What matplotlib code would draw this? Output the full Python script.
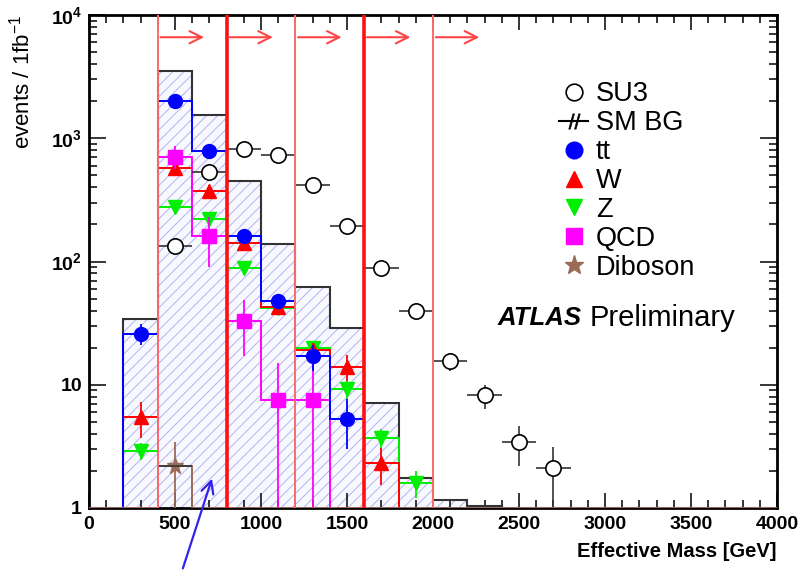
import numpy as np
import matplotlib.pyplot as plt
from matplotlib.lines import Line2D
from matplotlib.ticker import FixedLocator, MultipleLocator, NullFormatter

plt.rcParams['font.family'] = ['Liberation Sans', 'DejaVu Sans']
plt.rcParams['hatch.linewidth'] = 0.7
plt.rcParams['mathtext.default'] = 'regular'

# 200 GeV bins from 0 to 4000 GeV
edges = np.arange(0, 4001, 200)
centers = edges[:-1] + 100

# events / 1fb^-1 in each bin (0 = empty bin)
sm_bg   = [0, 34, 3500, 1550, 450, 139, 62, 29, 7.1, 1.75, 1.17, 1.04, 0, 0, 0, 0, 0, 0, 0, 0]
ttbar   = [0, 26, 1990, 790, 160, 48, 17, 5.3, 0, 0, 0, 0, 0, 0, 0, 0, 0, 0, 0, 0]
wjets   = [0, 5.5, 570, 375, 140, 43, 19, 14, 2.3, 0, 0, 0, 0, 0, 0, 0, 0, 0, 0, 0]
zjets   = [0, 2.9, 275, 220, 88, 42, 20, 9.2, 3.7, 1.6, 0, 0, 0, 0, 0, 0, 0, 0, 0, 0]
qcd     = [0, 0, 710, 160, 33, 7.5, 7.5, 0, 0, 0, 0, 0, 0, 0, 0, 0, 0, 0, 0, 0]
diboson = [0, 0, 2.2, 0, 0, 0, 0, 0, 0, 0, 0, 0, 0, 0, 0, 0, 0, 0, 0, 0]
su3     = [0, 0, 134, 530, 820, 730, 420, 195, 88, 40, 15.5, 8.2, 3.4, 2.1, 0, 0, 0, 0, 0, 0]

# statistical errors
ttbar_err   = [0, 5, 150, 70, 15, 6, 4, 2.3, 0, 0, 0, 0, 0, 0, 0, 0, 0, 0, 0, 0]
wjets_err   = [0, 1.8, 60, 45, 15, 5, 3, 3.3, 0.75, 0, 0, 0, 0, 0, 0, 0, 0, 0, 0, 0]
zjets_err   = [0, 0.45, 30, 25, 10, 5, 2.5, 1.6, 0.7, 0.4, 0, 0, 0, 0, 0, 0, 0, 0, 0, 0]
qcd_err     = [0, 0, 150, 70, 16, 7.4, 7.4, 0, 0, 0, 0, 0, 0, 0, 0, 0, 0, 0, 0, 0]
diboson_err = [0, 0, 1.2, 0, 0, 0, 0, 0, 0, 0, 0, 0, 0, 0, 0, 0, 0, 0, 0, 0]
su3_err     = [0, 0, 8, 15, 20, 20, 15, 10, 6, 4, 2.5, 1.8, 1.2, 1, 0, 0, 0, 0, 0, 0]

# cut values on effective mass
cuts_thin = [400, 1200, 2000]
cuts_thick = [800, 1600]

x_ticks = list(range(0, 4001, 500))
y_ticks = [1, 10, 100, 1000, 10000]
y_tick_labels = ['1', '10', '$10^2$', '$10^3$', '$10^4$']

fig = plt.figure(figsize=(8.03, 5.71), dpi=100)
ax = fig.add_axes([89/803, 63/571, 688/803, 493/571])
ax.set_yscale('log')
ax.set_xlim(0, 4000)
ax.set_ylim(1, 1e4)

# SM background: hatched area + black outline
sm = np.clip(np.array(sm_bg, float), 1, None)
ax.fill_between(edges, np.append(sm, sm[-1]), 1, step='post', facecolor='#f8f8ff',
                edgecolor='#b4b4f2', hatch='///', linewidth=0, zorder=1)
ax.stairs(sm, edges, baseline=None, color='#333333', lw=1.5, zorder=2)

# individual backgrounds
series = [
    (zjets, zjets_err, '#00ee00', 'v', 9.5),
    (wjets, wjets_err, '#ff0000', '^', 9.5),
    (qcd, qcd_err, '#ff00ff', 's', 10),
    (ttbar, ttbar_err, '#0000ff', 'o', 10),
    (diboson, diboson_err, '#9b6b55', '*', 12),
]
for i, (vals, errs, col, mk, ms) in enumerate(series):
    v = np.array(vals, float)
    e = np.array(errs, float)
    ax.stairs(np.clip(v, 1, None), edges, baseline=None, color=col, lw=1.4, zorder=3 + i)
    m = v > 0
    lo = np.minimum(e[m], v[m] - 1e-3)
    ax.errorbar(centers[m], v[m], yerr=[lo, e[m]], fmt=mk, color=col, ms=ms,
                elinewidth=1.3, capsize=0, zorder=4 + i)

# diboson horizontal bar
db = np.array(diboson, float)
ax.errorbar(centers[db > 0], db[db > 0], xerr=100, fmt='none', ecolor='#333333', lw=1.2, zorder=9)

# SU3 signal
s = np.array(su3, float)
ms_ = s > 0
ax.errorbar(centers[ms_], s[ms_], xerr=100, yerr=np.array(su3_err)[ms_], fmt='o',
            mfc='white', mec='black', ecolor='#333333', ms=11, mew=1.2, elinewidth=1.2,
            capsize=0, zorder=10)

# cut lines with arrows
for c in cuts_thin:
    ax.axvline(c, color='#ff6a6a', lw=1.4, zorder=11)
for c in cuts_thick:
    ax.axvline(c, color='#ff1010', lw=2.6, zorder=11)
for c in cuts_thin + cuts_thick:
    ax.annotate('', xy=(c + 285, 6600), xytext=(c, 6600),
                arrowprops=dict(arrowstyle='->', color='#ff4545', lw=1.5, mutation_scale=22),
                zorder=12)

# axes styling
for sp in ax.spines.values():
    sp.set_linewidth(2)
ax.xaxis.set_major_locator(FixedLocator(x_ticks))
ax.xaxis.set_minor_locator(MultipleLocator(100))
ax.yaxis.set_major_locator(FixedLocator(y_ticks))
ax.yaxis.set_minor_locator(FixedLocator([k * 10**d for d in range(4) for k in range(2, 10)]))
ax.yaxis.set_minor_formatter(NullFormatter())
ax.set_yticklabels(y_tick_labels, fontsize=14, fontweight='bold')
ax.set_xticklabels([str(x) for x in x_ticks], fontsize=14, fontweight='bold')
ax.tick_params(which='both', direction='in', top=True, right=True, width=1.1)
ax.tick_params(axis='x', which='major', length=11, pad=6)
ax.tick_params(axis='x', which='minor', length=6)
ax.tick_params(axis='y', which='major', length=12, pad=5)
ax.tick_params(axis='y', which='minor', length=6)

ax.set_xlabel('Effective Mass [GeV]', fontsize=14.5, fontweight='bold', loc='right', labelpad=6)
ax.set_ylabel('events / 1fb$^{-1}$', fontsize=16, loc='top', labelpad=12)

# legend
handles = [
    Line2D([], [], ls='none', marker='o', mfc='white', mec='black', ms=12, mew=1.2),
    Line2D([], [], color='black', lw=1.5, marker='$//$', ms=11, mew=0.4),
    Line2D([], [], ls='none', marker='o', color='#0000ff', ms=12),
    Line2D([], [], ls='none', marker='^', color='#ff0000', ms=12),
    Line2D([], [], ls='none', marker='v', color='#00ee00', ms=12),
    Line2D([], [], ls='none', marker='s', color='#ff00ff', ms=12),
    Line2D([], [], ls='none', marker='*', color='#9b6b55', ms=14),
]
labels = ['SU3', 'SM BG', 'tt', 'W', 'Z', 'QCD', 'Diboson']
ax.legend(handles, labels, loc='upper left', bbox_to_anchor=(0.668, 0.888), frameon=False,
          fontsize=19.5, handlelength=1.05, handletextpad=0.3, labelspacing=0.11,
          borderaxespad=0)

ax.text(0.594, 0.385, 'ATLAS', transform=ax.transAxes, fontsize=18.5, fontweight='bold',
        style='italic', va='center', ha='left')
ax.text(0.727, 0.385, 'Preliminary', transform=ax.transAxes, fontsize=21,
        va='center', ha='left')

# hand-drawn pointer below the plot
ax.annotate('', xy=(720, 1.82), xytext=(182, 0), textcoords='figure pixels',
            arrowprops=dict(arrowstyle='->', color='#3322ee', lw=1.6, mutation_scale=22),
            annotation_clip=False, zorder=20)

fig.savefig('out.png', dpi=100)
